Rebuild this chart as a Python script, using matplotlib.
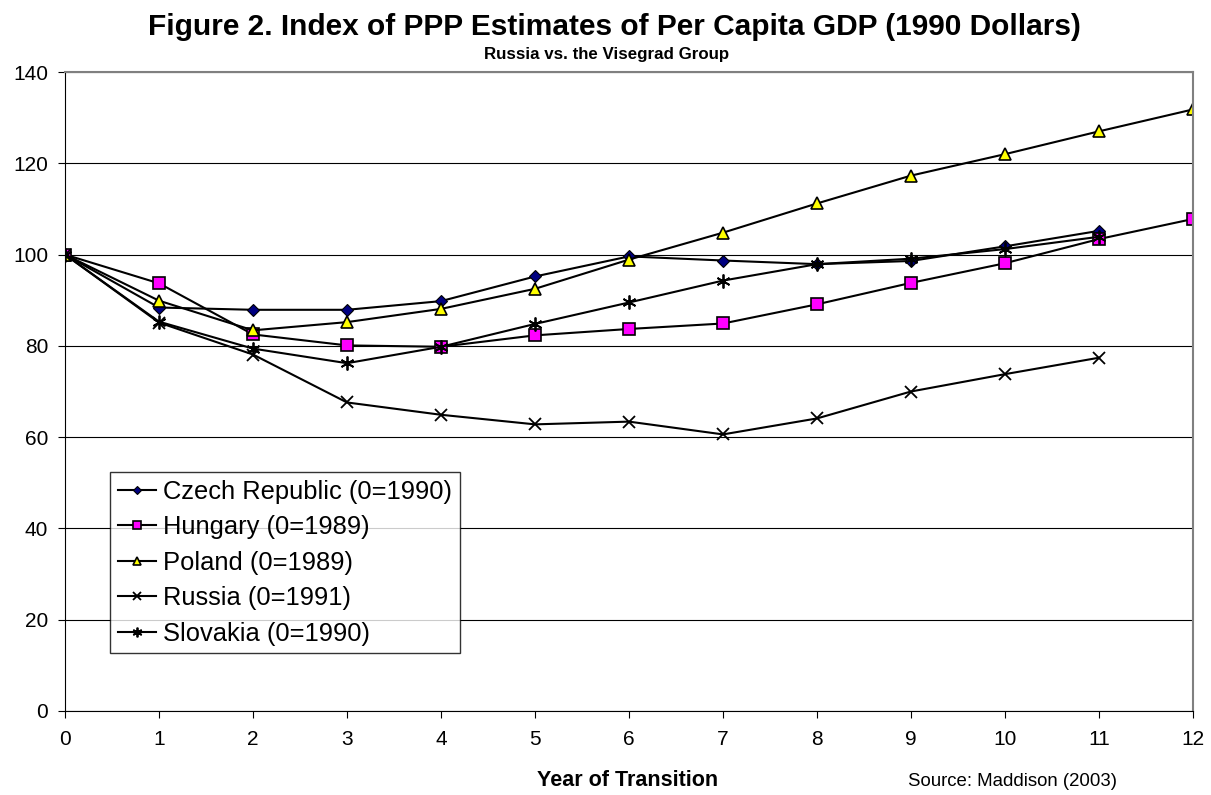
import numpy as np
import matplotlib.pyplot as plt

plt.rcParams['font.family'] = ['Liberation Sans', 'DejaVu Sans']

years = np.arange(0, 13)

czech = [100, 88.4, 87.9, 87.9, 89.8, 95.2, 99.6, 98.7, 97.9, 98.6, 101.8, 105.2]
hungary = [100, 93.7, 82.5, 80.1, 79.8, 82.3, 83.7, 84.9, 89.1, 93.8, 98.1, 103.4, 107.8]
poland = [100, 89.9, 83.4, 85.2, 88.1, 92.5, 98.9, 104.8, 111.2, 117.3, 122.0, 127.0, 131.8]
russia = [100, 85.1, 78.1, 67.6, 64.9, 62.8, 63.4, 60.6, 64.1, 70.0, 73.8, 77.4]
slovakia = [100, 85.3, 79.4, 76.2, 79.8, 84.8, 89.5, 94.3, 97.9, 99.1, 101.2, 103.9]

labels = ['Czech Republic (0=1990)', 'Hungary (0=1989)', 'Poland (0=1989)',
          'Russia (0=1991)', 'Slovakia (0=1990)']

fig = plt.figure(figsize=(12.11, 7.95), dpi=100)
ax = fig.add_axes([65 / 1211, 1 - 711 / 795, 1128 / 1211, 639 / 795])

ax.plot(years[:len(czech)], czech, color='black', lw=1.5, marker='D', ms=6,
        mfc='#000080', mec='black', mew=0.8, label=labels[0])
ax.plot(years[:len(hungary)], hungary, color='black', lw=1.5, marker='s', ms=8,
        mfc='#ff00ff', mec='black', mew=1.2, label=labels[1])
ax.plot(years[:len(poland)], poland, color='black', lw=1.5, marker='^', ms=8,
        mfc='#ffff00', mec='black', mew=1.2, label=labels[2])
ax.plot(years[:len(russia)], russia, color='black', lw=1.5, marker='x', ms=9,
        mec='black', mew=1.3, label=labels[3])
ax.plot(years[:len(slovakia)], slovakia, color='black', lw=1.5, marker=(6, 2, 0), ms=10,
        mec='black', mew=1.3, label=labels[4])

ax.set_xlim(0, 12)
ax.set_ylim(0, 140)
ax.set_xticks(years)
ax.set_yticks(np.arange(0, 141, 20))
ax.yaxis.grid(True, color='black', lw=0.8)
ax.set_axisbelow(True)
ax.tick_params(axis='both', direction='out', length=5, labelsize=15, color='black')
ax.tick_params(axis='x', pad=9)
ax.tick_params(axis='y', pad=7)
for s in ['top', 'right']:
    ax.spines[s].set_color('#808080')
    ax.spines[s].set_linewidth(1.5)
for s in ['left', 'bottom']:
    ax.spines[s].set_color('black')

fig.text(628 / 1211, 1 - 780 / 795, 'Year of Transition', ha='center', va='center',
         fontsize=15.5, fontweight='bold')

fig.text(614 / 1211, 1 - 27 / 795, 'Figure 2. Index of PPP Estimates of Per Capita GDP (1990 Dollars)',
         ha='center', va='center', fontsize=21.5, fontweight='bold')
fig.text(607 / 1211, 1 - 54 / 795, 'Russia vs. the Visegrad Group',
         ha='center', va='center', fontsize=12.2, fontweight='bold')
fig.text(1013 / 1211, 1 - 781 / 795, 'Source: Maddison (2003)',
         ha='center', va='center', fontsize=13.4)

leg = ax.legend(loc='upper left', bbox_to_anchor=((110 - 65) / 1128, (711 - 472) / 639),
                fontsize=18.4, frameon=True, fancybox=False, edgecolor='black',
                borderpad=0.3, handlelength=1.5, handletextpad=0.27, labelspacing=0.45,
                borderaxespad=0, markerscale=0.7)
leg.get_frame().set_linewidth(1.0)

fig.savefig('out.png', dpi=100)
